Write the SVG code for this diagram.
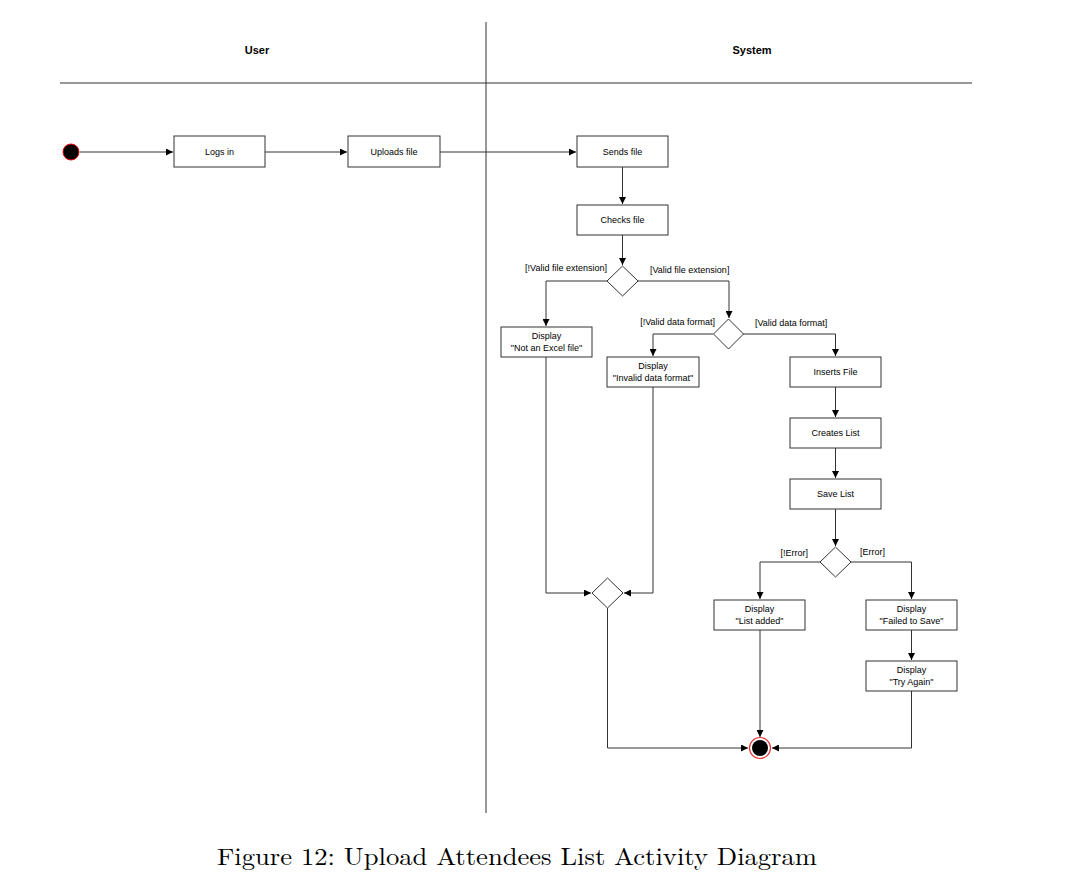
<svg xmlns="http://www.w3.org/2000/svg" width="1075" height="876" viewBox="0 0 1075 876">
<defs>
<style>
.box{fill:#fff;stroke:#333;stroke-width:1}
.dia{fill:#fff;stroke:#333;stroke-width:1}
.t{font-family:"Liberation Sans",Arial,sans-serif;font-size:9px;fill:#000;text-anchor:middle}
.lbl{font-family:"Liberation Sans",Arial,sans-serif;font-size:9px;fill:#000}
.hd{font-family:"Liberation Sans",Arial,sans-serif;font-size:11px;font-weight:bold;fill:#000;text-anchor:middle}
.ln{fill:none;stroke:#333;stroke-width:1}
.lane{fill:none;stroke:#333;stroke-width:1}
</style>
<marker id="arr" viewBox="0 0 10 10" refX="10" refY="5" markerWidth="7" markerHeight="7" markerUnits="userSpaceOnUse" orient="auto">
<path d="M0,0 L10,5 L0,10 z" fill="#000"/>
</marker>
</defs>
<rect width="1075" height="876" fill="#fff"/>
<g id="lanes">
<line class="lane" x1="486" y1="22" x2="486" y2="813"/>
<line class="lane" x1="60" y1="83" x2="972" y2="83"/>
<text class="hd" x="257" y="54">User</text>
<text class="hd" x="752" y="54">System</text>
</g>
<g id="connectors">
<path class="ln" d="M80,152 H173" marker-end="url(#arr)"/>
<path class="ln" d="M265,152 H347" marker-end="url(#arr)"/>
<path class="ln" d="M440,152 H576" marker-end="url(#arr)"/>
<path class="ln" d="M622.5,167 V204" marker-end="url(#arr)"/>
<path class="ln" d="M622.5,235 V265" marker-end="url(#arr)"/>
<path class="ln" d="M607,281 H546 V326" marker-end="url(#arr)"/>
<path class="ln" d="M638,281 H729 V318" marker-end="url(#arr)"/>
<path class="ln" d="M713,334 H653 V356" marker-end="url(#arr)"/>
<path class="ln" d="M743,334 H835.5 V356" marker-end="url(#arr)"/>
<path class="ln" d="M835.5,387 V417" marker-end="url(#arr)"/>
<path class="ln" d="M835.5,448 V478" marker-end="url(#arr)"/>
<path class="ln" d="M835.5,509 V546" marker-end="url(#arr)"/>
<path class="ln" d="M820,562 H760 V599" marker-end="url(#arr)"/>
<path class="ln" d="M851,562 H911.5 V599" marker-end="url(#arr)"/>
<path class="ln" d="M911.5,630 V660" marker-end="url(#arr)"/>
<path class="ln" d="M546,357 V593 H591" marker-end="url(#arr)"/>
<path class="ln" d="M653,387 V593 H624" marker-end="url(#arr)"/>
<path class="ln" d="M607.5,608 V748 H748" marker-end="url(#arr)"/>
<path class="ln" d="M760,630 V737" marker-end="url(#arr)"/>
<path class="ln" d="M911.5,691 V748 H772" marker-end="url(#arr)"/>
<text class="lbl" x="607" y="271" text-anchor="end">[!Valid file extension]</text>
<text class="lbl" x="650" y="273">[Valid file extension]</text>
<text class="lbl" x="715" y="325" text-anchor="end">[!Valid data format]</text>
<text class="lbl" x="755" y="326">[Valid data format]</text>
<text class="lbl" x="808" y="556" text-anchor="end">[!Error]</text>
<text class="lbl" x="860" y="555">[Error]</text>
</g>
<g id="start"><circle cx="71" cy="152" r="8" fill="#000" stroke="#e00" stroke-width="1"/></g>
<g id="logs-in"><rect class="box" x="174" y="136" width="91" height="31"/><text class="t" x="219.5" y="155">Logs in</text></g>
<g id="uploads-file"><rect class="box" x="348" y="136" width="92" height="31"/><text class="t" x="394" y="155">Uploads file</text></g>
<g id="sends-file"><rect class="box" x="577" y="136" width="91" height="31"/><text class="t" x="622.5" y="155">Sends file</text></g>
<g id="checks-file"><rect class="box" x="577" y="205" width="91" height="30"/><text class="t" x="622.5" y="223">Checks file</text></g>
<g id="dec1"><path class="dia" d="M622.5,266 L638,281 L622.5,296 L607,281 Z"/></g>
<g id="not-excel"><rect class="box" x="501" y="327" width="91" height="30"/><text class="t" x="546.5" y="339">Display</text><text class="t" x="546.5" y="351">"Not an Excel file"</text></g>
<g id="dec2"><path class="dia" d="M728.5,319 L743.5,334 L728.5,349 L713.5,334 Z"/></g>
<g id="invalid-format"><rect class="box" x="607" y="357" width="92" height="30"/><text class="t" x="653" y="369">Display</text><text class="t" x="653" y="381">"Invalid data format"</text></g>
<g id="inserts-file"><rect class="box" x="790" y="357" width="91" height="30"/><text class="t" x="835.5" y="375">Inserts File</text></g>
<g id="creates-list"><rect class="box" x="790" y="418" width="91" height="30"/><text class="t" x="835.5" y="436">Creates List</text></g>
<g id="save-list"><rect class="box" x="790" y="479" width="91" height="30"/><text class="t" x="835.5" y="497">Save List</text></g>
<g id="dec3"><path class="dia" d="M835.5,547 L851,562 L835.5,577 L820,562 Z"/></g>
<g id="list-added"><rect class="box" x="714" y="600" width="91" height="30"/><text class="t" x="759.5" y="612">Display</text><text class="t" x="759.5" y="624">"List added"</text></g>
<g id="failed-save"><rect class="box" x="866" y="600" width="91" height="30"/><text class="t" x="911.5" y="612">Display</text><text class="t" x="911.5" y="624">"Failed to Save"</text></g>
<g id="try-again"><rect class="box" x="866" y="661" width="91" height="30"/><text class="t" x="911.5" y="673">Display</text><text class="t" x="911.5" y="685">"Try Again"</text></g>
<g id="merge"><path class="dia" d="M607.5,578 L623,593 L607.5,608 L592,593 Z"/></g>
<g id="end"><circle cx="760" cy="748" r="10.5" fill="#fff" stroke="#e33" stroke-width="1.2"/><circle cx="760" cy="748" r="8" fill="#000"/></g>
<g id="caption"><text x="217" y="865" font-family="'Latin Modern Roman','Liberation Serif',serif" font-size="24" textLength="600" lengthAdjust="spacingAndGlyphs" fill="#000">Figure 12: Upload Attendees List Activity Diagram</text></g>
</svg>
